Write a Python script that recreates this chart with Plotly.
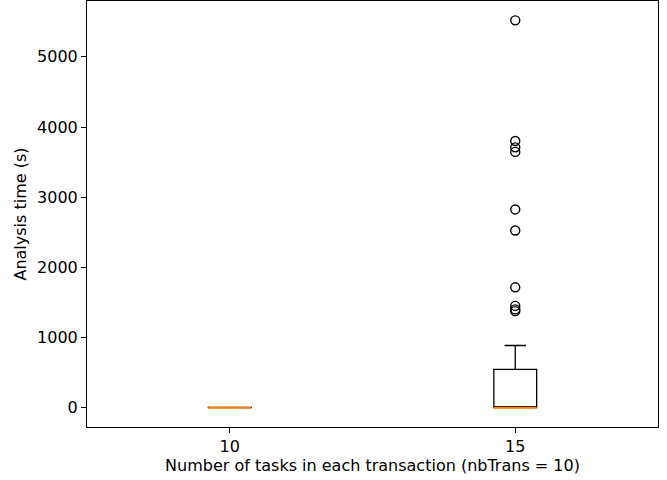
import plotly.graph_objects as go

# Data
categories = ["10", "15"]
positions = [1, 2]
q1 = [0, 0]
median = [0, 0]
q3 = [2, 545]
lower_whisker = [0, 0]
upper_whisker = [4, 886]
outliers_15 = [5520, 3800, 3710, 3645, 2825, 2525, 1715, 1450, 1400, 1375]
box_width = 0.15

fig = go.Figure()

for i, pos in enumerate(positions):
    fig.add_trace(go.Box(
        x=[pos], q1=[q1[i]], median=[median[i]], q3=[q3[i]],
        lowerfence=[lower_whisker[i]], upperfence=[upper_whisker[i]],
        width=box_width, whiskerwidth=0.5,
        fillcolor="white", line=dict(color="black", width=1.3),
        boxpoints=False, showlegend=False, hoverinfo="skip",
    ))

for i, pos in enumerate(positions):
    fig.add_trace(go.Scatter(
        x=[pos - box_width / 2, pos + box_width / 2],
        y=[median[i], median[i]],
        mode="lines", line=dict(color="#ff7f0e", width=2),
        showlegend=False, hoverinfo="skip",
    ))

fig.add_trace(go.Scatter(
    x=[positions[1]] * len(outliers_15), y=outliers_15,
    mode="markers",
    marker=dict(symbol="circle-open", size=9, color="black",
                line=dict(color="black", width=1.4)),
    showlegend=False,
))

FS = 16
axis_common = dict(
    showline=True, mirror=True, linecolor="black", linewidth=1,
    ticks="outside", ticklen=5, tickwidth=1, tickcolor="black",
    showgrid=False, zeroline=False, automargin=False,
    tickfont=dict(family="DejaVu Sans", size=FS, color="black"),
)

fig.update_layout(
    width=667, height=480,
    margin=dict(l=87, r=9, t=1, b=53, autoexpand=False),
    plot_bgcolor="white", paper_bgcolor="white",
    font=dict(family="DejaVu Sans", size=FS, color="black"),
    xaxis=dict(
        **axis_common,
        range=[0.5, 2.5],
        tickmode="array", tickvals=positions, ticktext=categories,
        title=dict(text="Number of tasks in each transaction (nbTrans = 10)",
                   standoff=4, font=dict(size=FS)),
    ),
    yaxis=dict(
        **axis_common,
        range=[-276, 5796],
        tickmode="array", tickvals=[0, 1000, 2000, 3000, 4000, 5000],
        title=dict(text="Analysis time (s)", standoff=6, font=dict(size=FS)),
    ),
)

fig.write_html(
    "out.html",
    config={"displayModeBar": False},
    post_script="document.body.style.margin='0px';document.body.style.padding='0px';",
)
